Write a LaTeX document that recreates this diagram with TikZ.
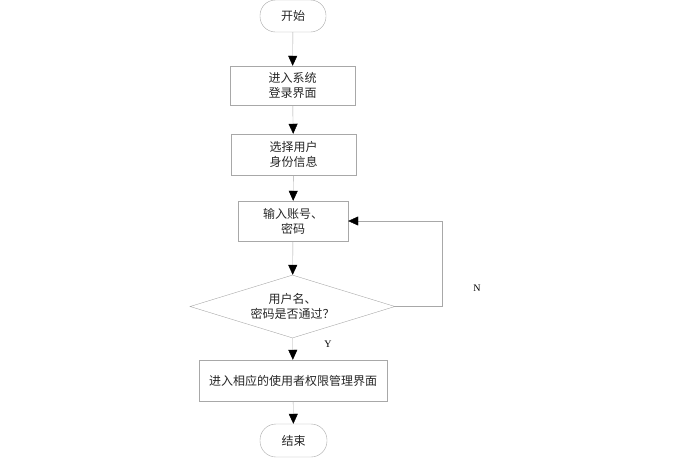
\documentclass[tikz,border=0pt]{standalone}
\usepackage{fontspec}
\newfontfamily\cjk{Noto Sans CJK SC}
\setmainfont{Liberation Serif}
\usetikzlibrary{shapes.geometric, arrows.meta}
\definecolor{linegray}{RGB}{168,168,168}
\tikzstyle{startstop} = [rectangle, rounded corners=15.5pt, draw=linegray, minimum width=66pt, minimum height=32pt, text centered, font=\cjk\fontsize{12}{15}\selectfont, text=black!85]
\tikzstyle{process} = [rectangle, draw=linegray, minimum height=40pt, align=center, font=\cjk\fontsize{12}{15}\selectfont, text=black!85]
\tikzstyle{decision} = [diamond, draw=linegray, aspect=3.25, inner sep=0pt, minimum width=205pt, minimum height=63pt, align=center, font=\cjk\fontsize{12}{15}\selectfont, text=black!85]
\tikzstyle{arrow} = [draw=linegray, -{Triangle[color=black, fill=black, width=9pt, length=10pt]}]
\begin{document}
\begin{tikzpicture}[x=1pt, y=-1pt]
            \useasboundingbox (0,0) rectangle (681,461);
            \node [startstop] at (293,16) (start) {开始};
            \node [process, minimum width=125pt, minimum height=39pt] at (292.5,85.5) (login) {进入系统\\登录界面};
            \node [process, minimum width=125pt, minimum height=41pt] at (293.5,154.5) (ident) {选择用户\\身份信息};
            \node [process, minimum width=110pt] at (293,221) (input) {输入账号、\\密码};
            \node [decision] at (292.5,306.5) (check) {用户名、\\密码是否通过？};
            \node [process, minimum width=188pt, minimum height=41pt] at (293,380.5) (enter) {进入相应的使用者权限管理界面};
            \node [startstop, minimum width=67pt, minimum height=33pt, rounded corners=16pt] at (293.5,440.5) (stop) {结束};
            \coordinate (back) at (442,306.5);
            \node at (477,288) (no) {N};
            \node at (328,344) (yes) {Y};
            \draw [arrow] (start) -- (login);
            \draw [arrow] (login) -- (ident);
            \draw [arrow] (ident) -- (input);
            \draw [arrow] (input) -- (check);
            \draw [arrow] (check) -- (enter);
            \draw [arrow] (enter) -- (stop);
            \draw [arrow] (check.east) -- (back) |- (input.east);
            \end{tikzpicture}
\end{document}
